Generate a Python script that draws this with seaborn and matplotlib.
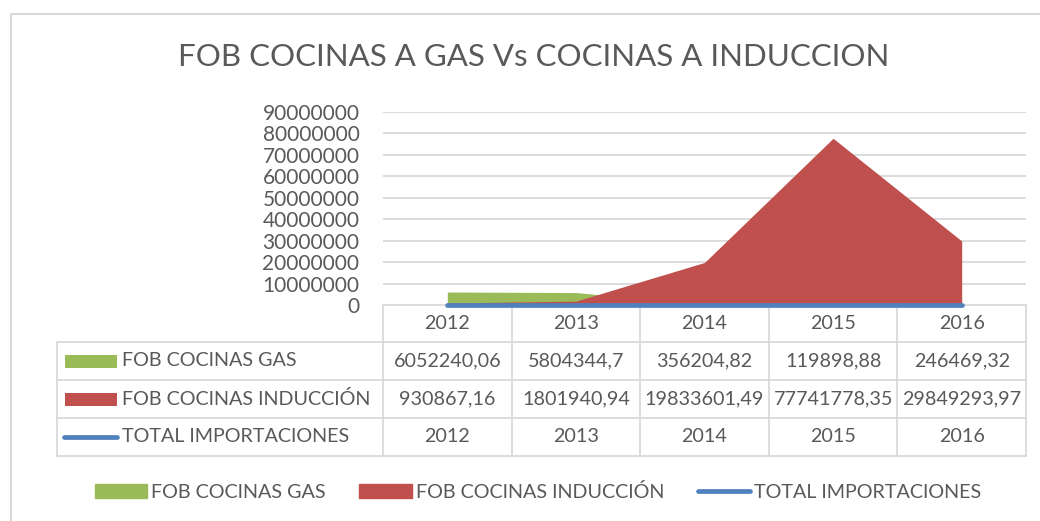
import numpy as np
import pandas as pd
import seaborn as sns
import matplotlib.pyplot as plt
from matplotlib.patches import Rectangle
from matplotlib.lines import Line2D

# datos
years = [2012, 2013, 2014, 2015, 2016]
fob_gas = [6052240.06, 5804344.7, 356204.82, 119898.88, 246469.32]
fob_induccion = [930867.16, 1801940.94, 19833601.49, 77741778.35, 29849293.97]
total_importaciones = [2012, 2013, 2014, 2015, 2016]
series_names = ["FOB COCINAS GAS", "FOB COCINAS INDUCCIÓN", "TOTAL IMPORTACIONES"]
title = "FOB COCINAS A GAS Vs COCINAS A INDUCCION"

sns.set_style("white")
plt.rcParams["font.family"] = ["Lato", "DejaVu Sans"]
gris = "#595959"
linea = "#d9d9d9"
c_gas = "#9bbb59"
c_ind = "#c0504d"
c_tot = "#4f81bd"
fs = 14.2

df = pd.DataFrame({"anio": years, "gas": fob_gas, "ind": fob_induccion, "tot": total_importaciones})
df["x"] = np.arange(len(df))

W, H = 1040, 521
fig = plt.figure(figsize=(W / 100, H / 100), dpi=100)

# zona del grafico (en pixeles)
x0, x1, ytop, ybot = 383, 1026, 112, 305
ax = fig.add_axes([x0 / W, 1 - ybot / H, (x1 - x0) / W, (ybot - ytop) / H])
ax.fill_between(df["x"], df["gas"], color=c_gas, linewidth=0, zorder=2)
ax.fill_between(df["x"], df["ind"], color=c_ind, linewidth=0, zorder=3)
sns.lineplot(data=df, x="x", y="tot", ax=ax, color=c_tot, linewidth=3.4, zorder=4)
for ln in ax.lines:
    ln.set_clip_on(False)
    ln.set_solid_capstyle("round")
ax.set_xlim(-0.5, len(df) - 0.5)
ax.set_ylim(0, 90000000)
ax.set_yticks(np.arange(0, 90000001, 10000000))
ax.set_yticklabels([str(int(v)) for v in np.arange(0, 90000001, 10000000)], fontsize=fs + 0.8, color=gris)
ax.grid(axis="y", color=linea, linewidth=1.3)
ax.set_xticks([])
ax.set_xlabel("")
ax.set_ylabel("")
ax.tick_params(axis="y", length=0, pad=17)
for s in ax.spines.values():
    s.set_visible(False)

# capa en pixeles para tabla, borde y leyenda
ov = fig.add_axes([0, 0, 1, 1], zorder=-1)
ov.set_xlim(0, W)
ov.set_ylim(H, 0)
ov.axis("off")
ov.plot([11, 11, W + 5], [H + 5, 14, 14], color=linea, lw=1.5)

def fmt(v):
    s = f"{v:.2f}".rstrip("0").rstrip(".")
    return s.replace(".", ",")

colw = (x1 - x0) / len(years)
xs = [x0 + i * colw for i in range(len(years) + 1)]
rows = [305, 342, 380, 418, 456]
tl = 57
# lineas de la tabla
ov.plot([x0, x1], [rows[0], rows[0]], color=linea, lw=1.3)
for r in rows[1:]:
    ov.plot([tl, x1], [r, r], color=linea, lw=1.3)
ov.plot([tl, tl], [rows[1], rows[-1]], color=linea, lw=1.3)
for xx in xs:
    ov.plot([xx, xx], [rows[0], rows[-1]], color=linea, lw=1.3)

cells = [[str(y) for y in years], [fmt(v) for v in fob_gas],
         [fmt(v) for v in fob_induccion], [str(v) for v in total_importaciones]]
for ri, fila in enumerate(cells):
    yc = (rows[ri] + rows[ri + 1]) / 2
    for ci, txt in enumerate(fila):
        ov.text((xs[ci] + xs[ci + 1]) / 2, yc, txt, ha="center", va="center",
                fontsize=fs, color=gris)

colores = [c_gas, c_ind, c_tot]
for i, (nom, col) in enumerate(zip(series_names, colores)):
    yc = (rows[i + 1] + rows[i + 2]) / 2
    if i < 2:
        ov.add_patch(Rectangle((65, yc - 6.5), 52, 13, color=col, lw=0))
    else:
        ov.plot([64, 117], [yc, yc], color=col, lw=3.4, solid_capstyle="round")
    ov.text(122, yc, nom, ha="left", va="center", fontsize=fs, color=gris)

# titulo
fig.text(534 / W, 1 - 57 / H, title, ha="center", va="center", fontsize=22.5, color=gris)

# leyenda inferior
handles = [Rectangle((0, 0), 1, 1, color=c_gas), Rectangle((0, 0), 1, 1, color=c_ind),
           Line2D([0], [0], color=c_tot, lw=3.4, solid_capstyle="round")]
leg = fig.legend(handles, series_names, loc="center", bbox_to_anchor=(538 / W, 1 - 492 / H),
                 ncol=3, frameon=False, fontsize=fs, handlelength=2.65, handletextpad=0.2,
                 columnspacing=1.7, handleheight=0.65)
for t in leg.get_texts():
    t.set_color(gris)

fig.savefig("out.png", dpi=100)
